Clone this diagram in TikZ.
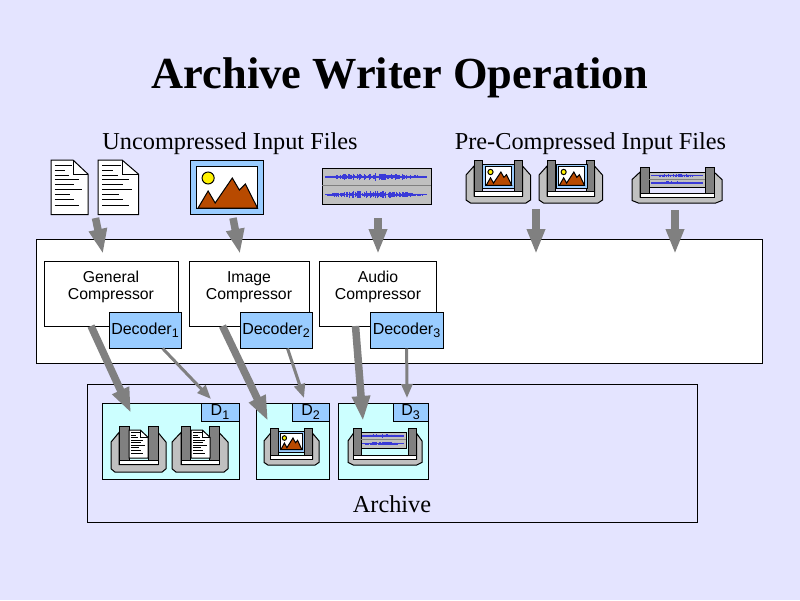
\documentclass[tikz,border=0pt]{standalone}
\usepackage{fontspec}
\setmainfont{Liberation Serif}
\setsansfont{Liberation Sans}
\usepackage{tikz}
\usetikzlibrary{arrows.meta}
\definecolor{pagecol}{HTML}{E4E4FF}
\definecolor{tagcol}{HTML}{99CCFF}
\definecolor{segcol}{HTML}{CCFFFF}
\definecolor{clampcol}{HTML}{C0C0C0}
\definecolor{jawcol}{HTML}{808080}
\definecolor{peakcol}{HTML}{B84A00}
\definecolor{wavecol}{HTML}{3A3AD8}
\tikzset{
  outline/.style={draw=black,line width=1pt},
  box/.style={outline,fill=white,inner sep=0pt},
  decoderbox/.style={outline,fill=tagcol,inner sep=0pt,minimum width=72,minimum height=36,font=\sffamily\fontsize{16}{19}\selectfont},
  tagbox/.style={outline,fill=tagcol,inner sep=0pt,minimum height=18,font=\sffamily\fontsize{16}{16}\selectfont},
  segbox/.style={outline,fill=segcol,inner sep=0pt},
  boxtext/.style={inner sep=0pt,align=center,font=\sffamily\fontsize{15.8}{17}\selectfont},
  heading/.style={inner sep=0pt,font=\fontsize{24.3}{28}\selectfont},
  fatarrow/.style={draw=jawcol,line width=7.5pt,-{Triangle[length=25pt,width=17pt]}},
  thinarrow/.style={draw=jawcol,line width=3pt,-{Triangle[length=14pt,width=11pt]}}
}
\newcommand{\lowernum}[1]{\raisebox{-.4ex}{\fontsize{12.5}{12.5}\selectfont #1}}
%page of text, base size 37x54
\newcommand{\docicon}[4]{
  \begin{scope}[shift={(#1,#2)},xscale=#3/37,yscale=#4/54]
    \draw[outline,fill=white](0,0)--(22,0)--(37,14)--(37,54)--(0,54)--cycle;
    \draw[line width=.6pt](22,0)--(22,14)--(37,14);
    \foreach \ly/\lx in {5.3/21,10/14,15/18,19.5/28,24.5/23,29.5/31,34.5/19,39.5/23,44.5/28}
      \draw[line width=.8pt](3.7,\ly)--(\lx,\ly);
  \end{scope}
}
%framed picture, base size 73x54
\newcommand{\imgicon}[4]{
  \begin{scope}[shift={(#1,#2)},xscale=#3/73,yscale=#4/54]
    \draw[outline,fill=tagcol](0,0)rectangle(73,54);
    \draw[outline,fill=white](6,6)rectangle(67.5,48.5);
    \draw[outline,fill=yellow](18,18)circle[radius=6];
    \draw[outline,fill=peakcol](8,48)--(18,31)--(25,43)--(42,18)--(49,30)--(55,24)--(67,48)--cycle;
  \end{scope}
}
%sound wave strip, base size 109x37
\newcommand{\waveicon}[4]{
  \begin{scope}[shift={(#1,#2)},xscale=#3/109,yscale=#4/37]
    \draw[outline,fill=clampcol](0,0)rectangle(109,37);
    \draw[draw=jawcol,line width=.6pt](0,18)--(109,18);
    \pgfmathsetseed{11}
    \foreach \wy in {9,27}{
      \draw[wavecol,line width=1.5pt](3,\wy)--(105,\wy);
      \foreach \wx in {5,6,...,103}{
        \pgfmathsetmacro{\wamp}{.8+rnd*3.4*sin(1.75*\wx)}
        \draw[wavecol,line width=1pt](\wx,\wy-\wamp)--(\wx,\wy+\wamp);
      }
    }
  \end{scope}
}
%clamp: left, right, top, bottom, jaw inset, jaw width
\newcommand{\clampicon}[6]{
  \pgfmathsetmacro{\hh}{#4-#3}
  \pgfmathsetmacro{\jawb}{#4-.26*\hh}
  \pgfmathsetmacro{\slotb}{#4-.16*\hh}
  \draw[outline,fill=clampcol]({#1+#5},{#3+.14*\hh})--(#1,{#3+.35*\hh})--(#1,{#4-.07*\hh})--({#1+.07*(#2-#1)},#4)
    --({#2-.07*(#2-#1)},#4)--(#2,{#4-.07*\hh})--(#2,{#3+.35*\hh})--({#2-#5},{#3+.14*\hh})
    --({#2-#5},\slotb)--({#1+#5},\slotb)--cycle;
  \draw[outline,fill=white]({#1+#5},\jawb)rectangle({#2-#5},\slotb);
  \draw[outline,fill=jawcol]({#1+#5},#3)rectangle({#1+#5+#6},\jawb);
  \draw[outline,fill=jawcol]({#2-#5-#6},#3)rectangle({#2-#5},\jawb);
}
\begin{document}
\begin{tikzpicture}[x=1pt,y=-1pt]
\useasboundingbox(0,0)rectangle(800,600);
\fill[pagecol](0,0)rectangle(800,600);
%titles
\node[inner sep=0pt,font=\bfseries\fontsize{44.4}{50}\selectfont](title)at(400,78){Archive Writer Operation};
\node[heading](plainhead)at(230,144){Uncompressed Input Files};
\node[heading](packedhead)at(590.5,144){Pre-Compressed Input Files};
%input files
\docicon{51}{160}{37}{54.5}
\docicon{98}{160}{40.5}{54.5}
\imgicon{190}{160}{73.5}{54}
\waveicon{322}{168}{109}{36.5}
\clampicon{466}{530.5}{160}{203}{8}{8.5}
\imgicon{482.7}{164}{31.6}{24}
\clampicon{539}{602.5}{160}{203}{8}{8.5}
\imgicon{556}{164}{31}{24}
\clampicon{632}{722}{167}{203}{8}{9}
\waveicon{649}{172}{56}{15}
%writer
\node[box,minimum width=726,minimum height=124](writer)at(399,301){};
\node[box,minimum width=134,minimum height=65](general)at(111,293.5){};
\node[boxtext,anchor=north](generaltext)at(111,270.5){General\\Compressor};
\node[box,minimum width=120,minimum height=65](image)at(249,293.5){};
\node[boxtext,anchor=north](imagetext)at(249,270.5){\vphantom{l}Image\\Compressor};
\node[box,minimum width=117,minimum height=65](audio)at(377.5,293.5){};
\node[boxtext,anchor=north](audiotext)at(378,270.5){Audio\\Compressor};
\node[decoderbox](decoder1)at(145,330){Decoder\lowernum{1}};
\node[decoderbox](decoder2)at(276,330){Decoder\lowernum{2}};
\node[decoderbox,minimum width=73](decoder3)at(406.5,330){Decoder\lowernum{3}};
%archive
\node[outline,inner sep=0pt,minimum width=610,minimum height=138](archive)at(392,453){};
\node[heading](archivetext)at(392,504.5){Archive};
\node[segbox,minimum width=137,minimum height=76](seg1)at(170.5,441){};
\node[segbox,minimum width=73,minimum height=76](seg2)at(292.5,441){};
\node[segbox,minimum width=90,minimum height=76](seg3)at(383,441){};
\node[tagbox,minimum width=38](tag1)at(220,412){D\lowernum{1}};
\node[tagbox,minimum width=37](tag2)at(310.5,412){D\lowernum{2}};
\node[tagbox,minimum width=35](tag3)at(410.5,412){D\lowernum{3}};
\clampicon{111}{166}{426}{472}{8}{10}
\docicon{129}{430}{19}{28}
\clampicon{172}{228}{426}{472}{9}{9.5}
\docicon{191}{430}{19}{28}
\clampicon{264}{319}{428}{465}{6.5}{8}
\imgicon{278}{431}{26}{21}
\clampicon{348}{422}{428}{465}{5.5}{8}
\waveicon{361}{432}{45}{16}
%connector ends
\coordinate(doctail)at(95.5,218);
\coordinate(doctip)at(103,254);
\coordinate(imgtail)at(233,218);
\coordinate(imgtip)at(240,254);
\coordinate(wavetail)at(378,218);
\coordinate(wavetip)at(378,254);
\coordinate(packedtail)at(536,209);
\coordinate(packedtip)at(536,254);
\coordinate(clamptail)at(675,210);
\coordinate(clamptip)at(675,254);
\coordinate(generaltail)at(91,326);
\coordinate(generaltip)at(131,413);
\coordinate(imagetail)at(222.5,326);
\coordinate(imagetip)at(268,421);
\coordinate(audiotail)at(355.5,326);
\coordinate(audiotip)at(363,421);
\coordinate(dec1tip)at(211,399);
\coordinate(dec2tip)at(304,398);
\coordinate(dec3tip)at(407,398);
%arrows
\draw[fatarrow](doctail)--(doctip);
\draw[fatarrow](imgtail)--(imgtip);
\draw[fatarrow](wavetail)--(wavetip);
\draw[fatarrow](packedtail)--(packedtip);
\draw[fatarrow](clamptail)--(clamptip);
\draw[fatarrow](generaltail)--(generaltip);
\draw[fatarrow](imagetail)--(imagetip);
\draw[fatarrow](audiotail)--(audiotip);
\draw[thinarrow](decoder1)--(dec1tip);
\draw[thinarrow](decoder2.-58)--(dec2tip);
\draw[thinarrow](decoder3)--(dec3tip);
\end{tikzpicture}
\end{document}
